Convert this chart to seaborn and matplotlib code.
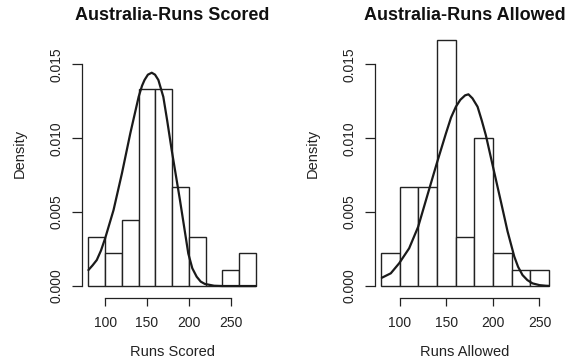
import matplotlib
matplotlib.use("Agg")
import matplotlib.pyplot as plt
import seaborn as sns
import numpy as np

# histogram bins (width 20) and counts per bin
edges_scored = [80, 100, 120, 140, 160, 180, 200, 220, 240, 260, 280]
counts_scored = [3, 2, 4, 12, 12, 6, 3, 0, 1, 2]

edges_allowed = [80, 100, 120, 140, 160, 180, 200, 220, 240, 260]
counts_allowed = [2, 6, 6, 15, 3, 9, 2, 1, 1]

# density curves
curve_x_scored = [80, 85, 90, 95, 100, 110, 120, 130, 140, 144, 147, 151, 155.6,
                  159.5, 163.5, 169.4, 174, 179.4, 189.3, 199.2, 204, 209.2,
                  214, 219, 230, 240, 260, 280]
curve_y_scored = [0.00108, 0.0014, 0.00176, 0.0024, 0.00323, 0.00514, 0.00762,
                  0.01033, 0.01281, 0.01355, 0.01394, 0.0143, 0.01443, 0.0143,
                  0.01394, 0.0128, 0.0112, 0.0092, 0.0058, 0.0022, 0.0012,
                  0.00063, 0.0003, 0.00014, 0.00002, 0.0, 0.0, 0.0]

curve_x_allowed = [80.7, 90.3, 99.3, 110, 119.7, 129.7, 139.7, 149.4, 155, 160.2,
                   165, 170.1, 173.7, 178, 183.5, 188, 192.4, 200.3, 208.6, 215.7,
                   222.9, 227, 231.8, 237, 242.5, 250, 256.8, 260]
curve_y_allowed = [0.00056, 0.00086, 0.00154, 0.00255, 0.00401, 0.00616, 0.0083,
                   0.0103, 0.0114, 0.01213, 0.0126, 0.0129, 0.01297, 0.0127,
                   0.01213, 0.0112, 0.0102, 0.0080, 0.0057, 0.0037, 0.0020,
                   0.0013, 0.00074, 0.0004, 0.00018, 0.00006, 0.00002, 0.00001]

titles = ["Australia-Runs Scored", "Australia-Runs Allowed"]
xlabels = ["Runs Scored", "Runs Allowed"]
yticks = [0.0, 0.005, 0.010, 0.015]
ytick_labels = ["0.000", "0.005", "0.010", "0.015"]
xticks = [100, 150, 200, 250]

sns.set_theme(style="ticks")
plt.rcParams['font.family'] = ['Liberation Sans', 'DejaVu Sans']

W, H = 578, 364
fig = plt.figure(figsize=(W / 100, H / 100), dpi=100)
fig.patch.set_facecolor("white")

panels = [
    (81.7, (72, 288), edges_scored, counts_scored, curve_x_scored, curve_y_scored),
    (374.5, (72.8, 267.2), edges_allowed, counts_allowed, curve_x_allowed, curve_y_allowed),
]

ax_w = 181.0
ax_bottom = 297.7
ax_top = 31.8

for i, (left_px, xlim, edges, counts, cx, cy) in enumerate(panels):
    ax = fig.add_axes([left_px / W, (H - ax_bottom) / H, ax_w / W, (ax_bottom - ax_top) / H])
    ax.set_facecolor("white")

    centers = [(a + b) / 2 for a, b in zip(edges[:-1], edges[1:])]
    sns.histplot(x=centers, weights=counts, bins=edges, stat="density",
                 fill=True, color="white", edgecolor="#222222", linewidth=1.0,
                 alpha=1, ax=ax)
    sns.lineplot(x=cx, y=cy, color="#1a1a1a", linewidth=1.6, ax=ax)

    ax.set_xlim(*xlim)
    ax.set_ylim(-0.00079, 0.0172)

    # R-like axes
    ax.spines["top"].set_visible(False)
    ax.spines["right"].set_visible(False)
    ax.spines["left"].set_bounds(0, 0.015)
    ax.spines["bottom"].set_bounds(100, 250)
    for s in ("left", "bottom"):
        ax.spines[s].set_linewidth(0.9)
        ax.spines[s].set_color("#222222")

    ax.set_yticks(yticks)
    ax.set_yticklabels(ytick_labels, rotation=90, va="center")
    ax.set_xticks(xticks)
    ax.tick_params(axis="y", length=7, width=0.9, pad=6, labelsize=10, colors="#222222")
    ax.tick_params(axis="x", length=6, width=0.9, pad=7, labelsize=10, colors="#222222")

    ax.set_xlabel(xlabels[i], fontsize=10.5, color="#222222")
    ax.set_ylabel("Density", fontsize=10.5, color="#222222")
    ax.xaxis.set_label_coords(0.5, -(351.7 - ax_bottom) / (ax_bottom - ax_top))
    ax.xaxis.label.set_verticalalignment("center")
    ax.yaxis.set_label_coords((20 - 81.7) / ax_w, (ax_bottom - 153) / (ax_bottom - ax_top))
    ax.yaxis.label.set_verticalalignment("center")

    ax.text(0.5, 1 + (ax_top - 15) / (ax_bottom - ax_top), titles[i],
            transform=ax.transAxes, ha="center", va="center",
            fontsize=13, fontweight="bold", color="#111111")

fig.savefig("out.png", dpi=100, facecolor="white")
